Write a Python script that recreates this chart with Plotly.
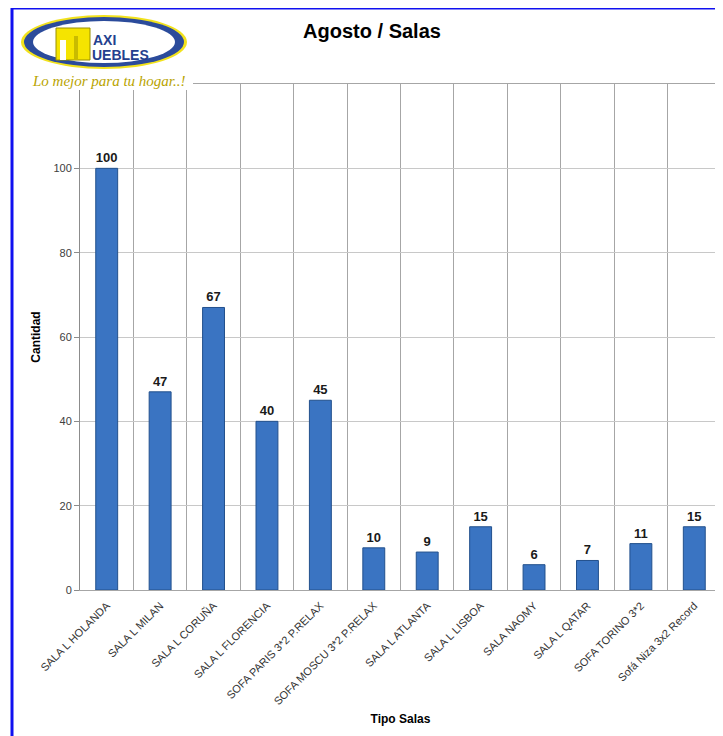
import plotly.graph_objects as go

# datos de ventas de agosto por tipo de sala
salas = [
    "SALA L HOLANDA", "SALA L MILAN", "SALA L CORUÑA", "SALA L FLORENCIA",
    "SOFA PARIS 3*2 P.RELAX", "SOFA MOSCU 3*2 P.RELAX", "SALA L ATLANTA",
    "SALA L LISBOA", "SALA NAOMY", "SALA L QATAR", "SOFA TORINO 3*2",
    "Sofá Niza 3x2 Record",
]
cantidad = [100, 47, 67, 40, 45, 10, 9, 15, 6, 7, 11, 15]
y_ticks = [0, 20, 40, 60, 80, 100, 120]
y_tick_text = ["0", "20", "40", "60", "80", "100", ""]

# la página tiene 8px de margen en el body
OFF = 8
W, H = 723, 736
L, R, T, B = 80 - OFF, W - (721 - OFF), 84 - OFF, H - (590 - OFF)
pw, ph = W - L - R, H - T - B


def px_x(x):
    # pixel de pantalla -> paper (x)
    return (x - OFF - L) / pw


def px_y(y):
    # pixel de pantalla -> paper (y)
    return (H - B - (y - OFF)) / ph


fig = go.Figure()
fig.add_trace(go.Bar(
    x=salas, y=cantidad, width=0.41,
    marker=dict(color="#3a74c2", line=dict(color="#22508c", width=1)),
    text=cantidad, textposition="outside", cliponaxis=False,
    textfont=dict(family="Liberation Sans", size=13, color="#1a1a1a", weight="bold"),
))

shapes = [
    # marco azul
    dict(type="line", xref="paper", yref="paper", x0=px_x(12), x1=px_x(12),
         y0=px_y(760), y1=px_y(7), line=dict(color="#1010f0", width=3)),
    dict(type="line", xref="paper", yref="paper", x0=px_x(11), x1=px_x(760),
         y0=px_y(8), y1=px_y(8), line=dict(color="#1010f0", width=3)),
    # fondo blanco del logo
    dict(type="rect", xref="paper", yref="paper", x0=px_x(15), x1=px_x(193),
         y0=px_y(90), y1=px_y(10), fillcolor="white", line=dict(width=0), layer="above"),
    # elipses del logo
    dict(type="circle", xref="paper", yref="paper", x0=px_x(21), x1=px_x(187),
         y0=px_y(69), y1=px_y(15), fillcolor="#f2e21c", line=dict(width=0), layer="above"),
    dict(type="circle", xref="paper", yref="paper", x0=px_x(24), x1=px_x(184),
         y0=px_y(67), y1=px_y(17), fillcolor="#2b4b9b", line=dict(width=0), layer="above"),
    dict(type="circle", xref="paper", yref="paper", x0=px_x(33), x1=px_x(175),
         y0=px_y(63), y1=px_y(21), fillcolor="white", line=dict(width=0), layer="above"),
    # bloque amarillo de la M
    dict(type="rect", xref="paper", yref="paper", x0=px_x(56), x1=px_x(90),
         y0=px_y(60), y1=px_y(28), fillcolor="#f5e400", line=dict(color="#9a9000", width=1),
         layer="above"),
    dict(type="rect", xref="paper", yref="paper", x0=px_x(60), x1=px_x(66),
         y0=px_y(60), y1=px_y(40), fillcolor="white", line=dict(width=0), layer="above"),
    dict(type="rect", xref="paper", yref="paper", x0=px_x(74), x1=px_x(78),
         y0=px_y(60), y1=px_y(36), fillcolor="#c9bb00", line=dict(width=0), layer="above"),
]

annotations = [
    dict(text="<b>AXI</b>", xref="paper", yref="paper", x=px_x(91), y=px_y(40),
         xanchor="left", yanchor="middle", showarrow=False,
         font=dict(family="Liberation Sans", size=14, color="#24408e")),
    dict(text="<b>UEBLES</b>", xref="paper", yref="paper", x=px_x(90), y=px_y(55),
         xanchor="left", yanchor="middle", showarrow=False,
         font=dict(family="Liberation Sans", size=14, color="#24408e")),
    dict(text="<i>Lo mejor para tu hogar..!</i>", xref="paper", yref="paper",
         x=px_x(30), y=px_y(81), xanchor="left", yanchor="middle", showarrow=False,
         font=dict(family="Liberation Serif", size=15, color="#b9a400")),
]

fig.update_layout(
    width=W, height=H,
    margin=dict(l=L, r=R, t=T, b=B),
    paper_bgcolor="white", plot_bgcolor="white",
    title=dict(text="<b>Agosto / Salas</b>", x=(372 - OFF) / W, xanchor="center",
               y=1 - (31 - OFF) / H, yanchor="middle",
               font=dict(family="Liberation Sans", size=20, color="#000000")),
    showlegend=False,
    shapes=shapes,
    annotations=annotations,
    xaxis=dict(
        type="category", tickson="boundaries", tickangle=-45,
        showgrid=True, gridcolor="#a6a6a6", gridwidth=1,
        showline=True, linecolor="#a6a6a6", mirror=True,
        ticks="", ticklabelstandoff=4,
        tickfont=dict(family="Liberation Sans", size=11, color="#333333"),
        title=dict(text="<b>Tipo Salas</b>", standoff=8,
                   font=dict(family="Liberation Sans", size=12, color="#000000")),
    ),
    yaxis=dict(
        range=[0, 120], tickvals=y_ticks, ticktext=y_tick_text,
        showgrid=True, gridcolor="#c8c8c8", gridwidth=1,
        showline=True, linecolor="#8c8c8c", mirror=True,
        ticks="outside", ticklen=5, tickcolor="#8c8c8c",
        tickfont=dict(family="Liberation Sans", size=11, color="#404040"),
        zeroline=False,
        title=dict(text="<b>Cantidad</b>", standoff=10,
                   font=dict(family="Liberation Sans", size=12, color="#000000")),
    ),
)

fig.write_html("out.html")
